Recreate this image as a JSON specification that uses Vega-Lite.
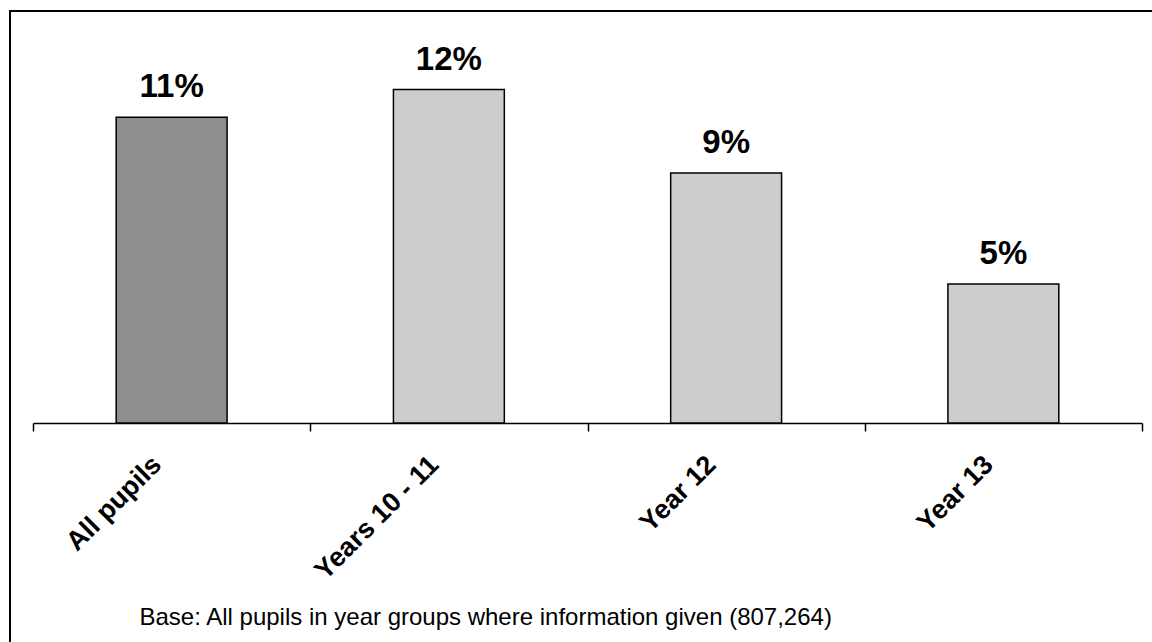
{
  "$schema": "https://vega.github.io/schema/vega-lite/v6.json",
  "autosize": {"type": "none"},
  "width": 1144,
  "height": 633,
  "padding": {"left": 10, "top": 11, "right": -2, "bottom": -2},
  "background": "white",
  "config": {
    "view": {"stroke": "black", "strokeWidth": 2},
    "font": "Liberation Sans"
  },
  "data": {
    "values": [
      {"group": "All pupils", "value": 11, "label": "11%", "kind": "all"},
      {"group": "Years 10 - 11", "value": 12, "label": "12%", "kind": "year"},
      {"group": "Year 12", "value": 9, "label": "9%", "kind": "year"},
      {"group": "Year 13", "value": 5, "label": "5%", "kind": "year"}
    ]
  },
  "encoding": {
    "x": {
      "field": "group",
      "type": "nominal",
      "sort": null,
      "scale": {"range": [23, 1132], "paddingInner": 0, "paddingOuter": 0},
      "axis": {
        "orient": "bottom",
        "offset": -221,
        "tickBand": "extent",
        "domainColor": "black",
        "domainWidth": 1.5,
        "tickColor": "black",
        "tickWidth": 1.5,
        "tickSize": 8,
        "labelFont": "Liberation Sans",
        "labelFontSize": 27,
        "labelFontWeight": "bold",
        "labelColor": "black",
        "labelAngle": -45,
        "labelPadding": 20,
        "labelOffset": -24,
        "labelOverlap": false,
        "labelLimit": 400,
        "title": "Base: All pupils in year groups where information given (807,264)",
        "titleFont": "Liberation Sans",
        "titleFontSize": 24,
        "titleFontWeight": "normal",
        "titleColor": "black",
        "titleAnchor": "start",
        "titleAlign": "left",
        "titleBaseline": "alphabetic",
        "titleX": 129,
        "titleY": 201,
        "titleAngle": 0
      }
    },
    "y": {
      "field": "value",
      "type": "quantitative",
      "scale": {"domain": [0, 14], "range": [412, 23], "nice": false},
      "axis": null
    }
  },
  "layer": [
    {
      "mark": {"type": "bar", "width": {"band": 0.4}, "stroke": "black", "strokeWidth": 1.5},
      "encoding": {
        "color": {
          "field": "kind",
          "type": "nominal",
          "scale": {"domain": ["all", "year"], "range": ["#8e8e8e", "#cdcdcd"]},
          "legend": null
        }
      }
    },
    {
      "mark": {
        "type": "text",
        "font": "Liberation Sans",
        "fontSize": 33,
        "fontWeight": "bold",
        "color": "black",
        "baseline": "alphabetic",
        "align": "center",
        "dy": -20
      },
      "encoding": {"text": {"field": "label"}}
    }
  ]
}
